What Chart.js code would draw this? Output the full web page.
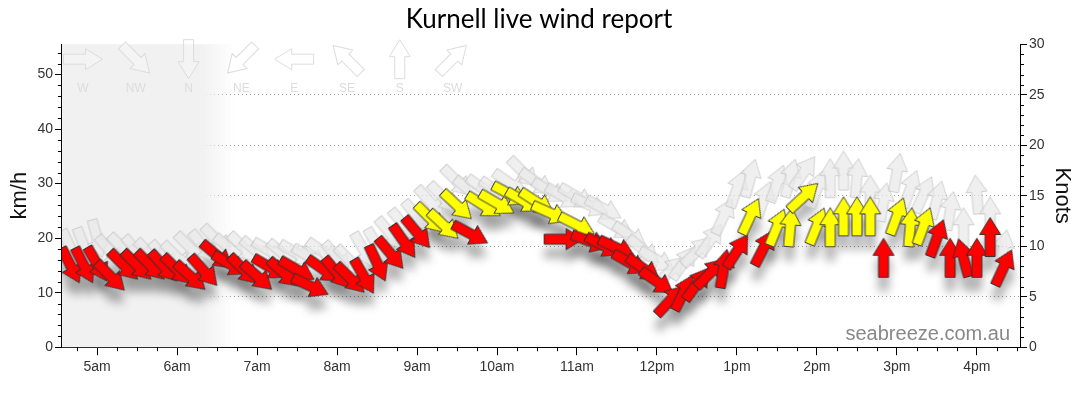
<!DOCTYPE html>
<html>
<head>
  <meta charset="UTF-8">
  <title>Kurnell live wind report</title>
  <script src="https://cdn.jsdelivr.net/npm/chart.js"></script>
  <style>
    body { margin: 0; background: #fff; }
    #chart-container { width: 1080px; height: 414px; }
  </style>
</head>
<body>
  <div id="chart-container">
    <canvas id="windChart"></canvas>
  </div>
  <script>
    // observation times (10 min)
    const times = [
      "4:40","4:50","5:00","5:10","5:20","5:30","5:40","5:50",
      "6:00","6:10","6:20","6:30","6:40","6:50",
      "7:00","7:10","7:20","7:30","7:40","7:50",
      "8:00","8:10","8:20","8:30","8:40","8:50",
      "9:00","9:10","9:20","9:30","9:40","9:50",
      "10:00","10:10","10:20","10:30","10:40","10:50",
      "11:00","11:10","11:20","11:30","11:40","11:50",
      "12:00","12:10","12:20","12:30","12:40","12:50",
      "13:00","13:10","13:20","13:30","13:40","13:50",
      "14:00","14:10","14:20","14:30","14:40","14:50",
      "15:00","15:10","15:20","15:30","15:40","15:50",
      "16:00","16:10","16:20"
    ];
    // average wind, km/h
    const windKmh = [
      15.0, 15.0, 15.2, 13.0, 15.0, 15.0, 15.0, 14.8,
      14.2, 13.0, 14.0, 16.8, 15.2, 14.2,
      13.0, 14.6, 13.6, 14.2, 11.2, 14.2,
      13.6, 12.6, 13.0, 15.4, 17.2, 19.4,
      21.0, 23.6, 22.4, 26.0, 20.8, 26.0,
      26.4, 28.0, 26.8, 26.6, 24.6, 19.8,
      22.4, 19.4, 18.6, 18.2, 15.4, 14.4,
      12.0, 8.6, 10.0, 11.6, 13.6, 14.4,
      17.6, 24.0, 18.2, 22.0, 22.0, 27.6,
      22.2, 22.0, 24.0, 24.0, 24.0, 16.4,
      24.0, 22.0, 22.2, 20.0, 16.4, 16.4,
      16.4, 20.2, 14.6
    ];
    // wind direction (from), degrees
    const windDir = [
      333, 333, 330, 315, 315, 315, 315, 318,
      315, 312, 318, 310, 300, 315,
      312, 300, 312, 300, 295, 305,
      320, 315, 330, 335, 320, 325,
      320, 315, 313, 313, 298, 302,
      300, 298, 300, 303, 294, 270,
      297, 290, 298, 295, 300, 305,
      305, 223, 207, 216, 225, 190,
      213, 205, 207, 202, 185, 227,
      202, 180, 180, 180, 180, 180,
      200, 185, 200, 200, 180, 165,
      180, 180, 205
    ];
    // gusts, km/h
    const gustKmh = [
      18.2, 18.5, 19.9, 17.5, 18.0, 17.5, 17.0, 16.5,
      16.5, 18.2, 18.4, 19.6, 18.0, 18.2,
      17.5, 17.6, 17.0, 17.2, 16.5, 17.4,
      16.4, 15.8, 17.8, 18.6, 20.8, 22.4,
      24.0, 26.6, 27.4, 30.4, 28.6, 29.0,
      28.6, 30.0, 32.0, 30.2, 28.6, 27.6,
      27.6, 26.0, 25.4, 22.0, 20.4, 17.8,
      16.0, 14.0, 15.5, 17.6, 19.6, 24.0,
      29.0, 31.0, 27.0, 30.0, 31.0, 32.0,
      29.0, 31.0, 32.4, 31.0, 28.0, 26.6,
      32.0, 29.0, 28.0, 27.0, 25.0, 22.0,
      28.0, 24.0, 18.0
    ];
    // gust direction (from), degrees
    const gustDir = [
      335, 340, 345, 320, 315, 320, 315, 320,
      315, 315, 320, 315, 310, 315,
      310, 300, 310, 300, 300, 305,
      320, 315, 330, 330, 320, 320,
      320, 318, 315, 315, 310, 305,
      305, 305, 315, 305, 300, 300,
      300, 295, 298, 300, 305, 310,
      300, 225, 215, 225, 215, 205,
      200, 195, 200, 200, 195, 215,
      200, 180, 180, 185, 180, 190,
      190, 200, 205, 195, 190, 180,
      175, 180, 190
    ];
    const compassNames = ["W", "NW", "N", "NE", "E", "SE", "S", "SW"];
    const compassDirs = [270, 315, 0, 45, 90, 135, 180, 225];
    const hourTicks = [5, 6, 7, 8, 9, 10, 11, 12, 13, 14, 15, 16];
    const yellowFrom = 21.5;   // km/h
    const nightEnd = 6.5;      // hours
    const KNOT = 1.852;

    function toHours(s) {
      const p = s.split(':');
      return +p[0] + p[1] / 60;
    }

    function arrowPath(g) {
      const L = 39, shaft = 10, head = 21, headLen = 17, h = L / 2;
      g.beginPath();
      g.moveTo(0, -h);
      g.lineTo(head / 2, -h + headLen);
      g.lineTo(shaft / 2, -h + headLen);
      g.lineTo(shaft / 2, h);
      g.lineTo(-shaft / 2, h);
      g.lineTo(-shaft / 2, -h + headLen);
      g.lineTo(-head / 2, -h + headLen);
      g.closePath();
    }

    function arrowImg(fill, stroke) {
      const c = document.createElement('canvas');
      c.width = 46; c.height = 46;
      const g = c.getContext('2d');
      g.translate(23, 23);
      arrowPath(g);
      g.fillStyle = fill;
      g.fill();
      if (stroke) {
        g.lineWidth = 1;
        g.strokeStyle = stroke;
        g.stroke();
      }
      return c;
    }

    const redArrow = arrowImg('#ff0000', '#333');
    const yellowArrow = arrowImg('#ffff00', '#444');
    const gustArrow = arrowImg('rgba(232,232,232,0.7)', 'rgba(200,200,200,0.85)');
    const shadowArrow = arrowImg('#000', null);

    const windPts = windKmh.map((v, i) => ({ x: toHours(times[i]), y: v }));
    const gustPts = gustKmh.map((v, i) => ({ x: toHours(times[i]), y: v }));

    function hourLabel(v) {
      const h = v % 12 === 0 ? 12 : v % 12;
      return h + (v < 12 ? 'am' : 'pm');
    }

    // night shading, compass key and watermark
    const backdrop = {
      id: 'backdrop',
      beforeDatasetsDraw(chart) {
        const { ctx, chartArea: a, scales } = chart;
        const xs = scales.x;
        const x0 = xs.getPixelForValue(nightEnd - 0.2);
        const x1 = xs.getPixelForValue(nightEnd + 0.22);
        ctx.save();
        ctx.fillStyle = '#f1f1f1';
        ctx.fillRect(a.left, a.top, x0 - a.left, a.bottom - a.top);
        const gr = ctx.createLinearGradient(x0, 0, x1, 0);
        gr.addColorStop(0, '#f1f1f1');
        gr.addColorStop(1, 'rgba(241,241,241,0)');
        ctx.fillStyle = gr;
        ctx.fillRect(x0, a.top, x1 - x0, a.bottom - a.top);

        ctx.font = '12px "Liberation Sans", Arial, sans-serif';
        ctx.textAlign = 'center';
        ctx.textBaseline = 'middle';
        compassNames.forEach((name, i) => {
          const cx = a.left + 21 + i * 52.8;
          ctx.save();
          ctx.translate(cx, a.top + 15);
          ctx.rotate(((compassDirs[i] + 180) % 360) * Math.PI / 180);
          arrowPath(ctx);
          ctx.fillStyle = 'rgba(255,255,255,0.25)';
          ctx.fill();
          ctx.lineWidth = 1;
          ctx.strokeStyle = '#dcdcdc';
          ctx.stroke();
          ctx.restore();
          ctx.fillStyle = '#dcdcdc';
          ctx.fillText(name, cx, a.top + 44);
        });

        ctx.font = '20px "Liberation Sans", Arial, sans-serif';
        ctx.fillStyle = '#888';
        ctx.textAlign = 'right';
        ctx.textBaseline = 'alphabetic';
        ctx.fillText('seabreeze.com.au', a.right - 10, a.bottom - 7);
        ctx.restore();
      },
      beforeDatasetDraw(chart, args) {
        if (args.index !== 2) return;
        const ctx = chart.ctx;
        ctx.save();
        ctx.translate(0, 14);
        ctx.filter = 'blur(5px)';
        ctx.globalAlpha = 0.32;
      },
      afterDatasetDraw(chart, args) {
        if (args.index !== 2) return;
        chart.ctx.restore();
      }
    };

    // short minor ticks
    const minorTicks = {
      id: 'minorTicks',
      afterDraw(chart) {
        const { ctx, scales } = chart;
        const defs = [
          { s: scales.x, step: 0.25, major: 1 },
          { s: scales.y, step: 2, major: 10 },
          { s: scales.y2, step: 1, major: 5 }
        ];
        ctx.save();
        ctx.strokeStyle = '#000';
        ctx.lineWidth = 1;
        ctx.beginPath();
        defs.forEach(d => {
          const s = d.s;
          const n0 = Math.ceil(s.min / d.step), n1 = Math.floor(s.max / d.step);
          for (let n = n0; n <= n1; n++) {
            const v = n * d.step;
            if (Math.abs(v / d.major - Math.round(v / d.major)) < 1e-6) continue;
            const p = Math.round(s.getPixelForValue(v)) + 0.5;
            if (s.id === 'x') { ctx.moveTo(p, s.top); ctx.lineTo(p, s.top + 4); }
            else if (s.id === 'y') { ctx.moveTo(s.right - 4, p); ctx.lineTo(s.right, p); }
            else { ctx.moveTo(s.left, p); ctx.lineTo(s.left + 4, p); }
          }
        });
        ctx.stroke();
        ctx.restore();
      }
    };

    const tickFont = { family: '"Liberation Sans", Arial, sans-serif', size: 14 };
    const titleFont = { family: '"Liberation Sans", Arial, sans-serif', size: 22 };

    new Chart(document.getElementById('windChart'), {
      type: 'scatter',
      data: {
        datasets: [
          {
            label: 'Wind',
            data: windPts,
            order: 0,
            radius: 3,
            pointStyle: c => windKmh[c.dataIndex] >= yellowFrom ? yellowArrow : redArrow,
            rotation: c => (windDir[c.dataIndex] + 180) % 360
          },
          {
            label: 'Gust',
            data: gustPts,
            order: 1,
            radius: 3,
            pointStyle: gustArrow,
            rotation: c => (gustDir[c.dataIndex] + 180) % 360
          },
          {
            label: 'Shadow',
            data: windPts,
            order: 2,
            radius: 3,
            pointStyle: shadowArrow,
            rotation: c => (windDir[c.dataIndex] + 180) % 360
          }
        ]
      },
      options: {
        responsive: true,
        maintainAspectRatio: false,
        animation: false,
        events: [],
        layout: { padding: { left: 3, right: 5, top: 0, bottom: 34 } },
        plugins: {
          legend: { display: false },
          tooltip: { enabled: false },
          title: {
            display: true,
            text: 'Kurnell live wind report',
            color: '#000',
            font: { family: 'Lato, "Open Sans", sans-serif', size: 26, weight: 'normal' },
            padding: { top: 4, bottom: 9 }
          }
        },
        scales: {
          x: {
            type: 'linear',
            min: 4.56,
            max: 16.54,
            afterBuildTicks: s => { s.ticks = hourTicks.map(v => ({ value: v })); },
            ticks: { callback: v => hourLabel(v), color: '#333', font: tickFont, padding: 4, maxRotation: 0 },
            grid: { drawOnChartArea: false, tickLength: 8, tickColor: '#000' },
            border: { color: '#000' }
          },
          y: {
            position: 'left',
            min: 0,
            max: 30 * KNOT,
            ticks: { stepSize: 10, includeBounds: false, color: '#333', font: tickFont, padding: 2 },
            grid: { drawOnChartArea: false, tickLength: 7, tickColor: '#000' },
            border: { color: '#000' },
            title: { display: true, text: 'km/h', color: '#111', font: titleFont, padding: { bottom: 2 } }
          },
          y2: {
            position: 'right',
            min: 0,
            max: 30,
            ticks: { stepSize: 5, color: '#333', font: tickFont, padding: 2 },
            grid: {
              drawOnChartArea: true,
              color: c => (c.tick && (c.tick.value === 0 || c.tick.value === 30)) ? 'rgba(0,0,0,0)' : '#999',
              tickLength: 7,
              tickColor: '#000'
            },
            border: { color: '#000', dash: [1, 3] },
            title: { display: true, text: 'Knots', color: '#111', font: titleFont, padding: { top: 0, bottom: 2 } }
          }
        }
      },
      plugins: [backdrop, minorTicks]
    });
  </script>
</body>
</html>
